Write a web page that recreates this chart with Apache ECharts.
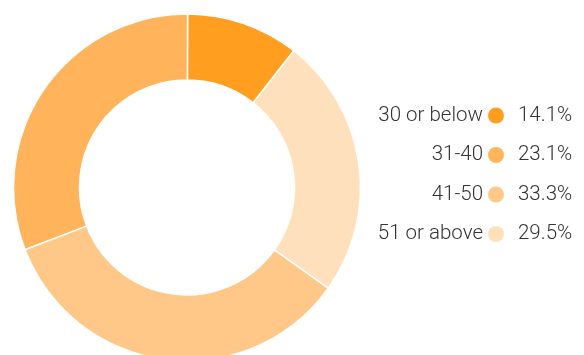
<!DOCTYPE html>
<html>
<head>
<meta charset="utf-8">
<script src="https://cdn.jsdelivr.net/npm/echarts@6/dist/echarts.min.js"></script>
<style>
  html, body { margin: 0; padding: 0; background: #fff; }
  #chart { width: 584px; height: 355px; }
</style>
</head>
<body>
<div id="chart"></div>
<script>
// age groups, in legend order
const groups = ['30 or below', '31-40', '41-50', '51 or above'];
// share labels printed in the legend
const shareLabels = ['14.1%', '23.1%', '33.3%', '29.5%'];
// slice sizes as drawn in the ring (%)
const sliceValues = [10.5, 30.9, 34.3, 24.3];
const colors = ['#ff9e1f', '#ffb45c', '#ffc888', '#ffe0bc'];

const chart = echarts.init(document.getElementById('chart'));

const legendText = {
  fontFamily: 'Roboto, "Liberation Sans", sans-serif',
  fontWeight: 300,
  fontSize: 20.5,
  lineHeight: 20,
  color: '#333'
};

const option = {
  color: colors,
  animation: false,
  legend: [
    {
      orient: 'vertical',
      right: 75,
      top: 100,
      align: 'right',
      icon: 'circle',
      itemWidth: 16,
      itemHeight: 16,
      itemGap: 18.5,
      itemStyle: { borderWidth: 0 },
      selectedMode: false,
      data: groups,
      textStyle: legendText
    },
    {
      orient: 'vertical',
      left: 508,
      top: 100,
      icon: 'none',
      itemWidth: 0,
      itemHeight: 16,
      itemGap: 18.5,
      selectedMode: false,
      data: groups,
      formatter: (name) => shareLabels[groups.indexOf(name)],
      textStyle: legendText
    }
  ],
  series: [
    {
      type: 'pie',
      center: [187, 187.5],
      radius: [107.5, 173.5],
      startAngle: 52,
      clockwise: false,
      label: { show: false },
      labelLine: { show: false },
      emphasis: { disabled: true },
      itemStyle: { borderColor: '#fff', borderWidth: 1.5 },
      data: groups.map((g, i) => ({ name: g, value: sliceValues[i] }))
    }
  ]
};

chart.setOption(option);
</script>
</body>
</html>
